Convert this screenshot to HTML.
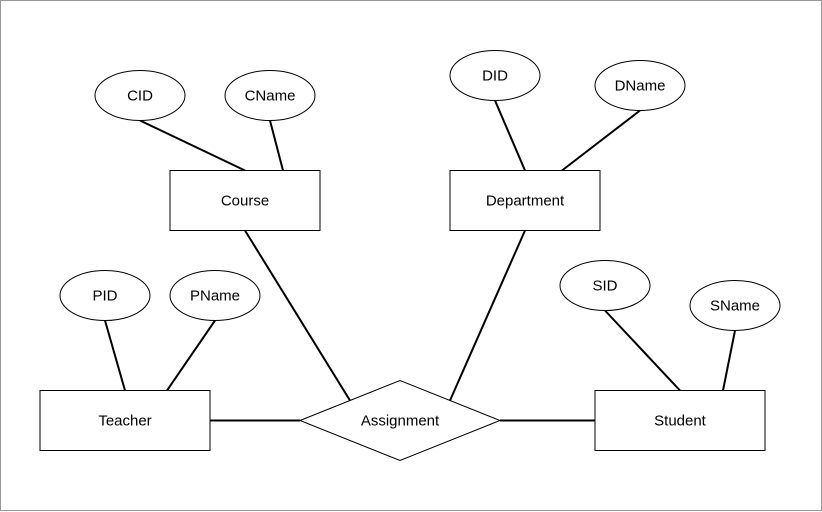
<!DOCTYPE html>
<html><head><meta charset="utf-8"><style>
html,body{margin:0;padding:0;background:#fff;}
svg{display:block;}
text{font-family:"Liberation Sans",Arial,sans-serif;font-size:15px;fill:#000;}
</style></head><body>
<svg width="822" height="512" viewBox="0 0 822 512" xmlns="http://www.w3.org/2000/svg">
<rect x="0.5" y="0.5" width="821" height="510" fill="#fff" stroke="#999" stroke-width="1"/>
<g transform="translate(0,0.5)">
<g stroke="#000" stroke-width="2" fill="none">
<line x1="140" y1="120" x2="245" y2="170"/>
<line x1="270" y1="120" x2="283" y2="170"/>
<line x1="495" y1="100" x2="525" y2="170"/>
<line x1="640" y1="110" x2="562" y2="170"/>
<line x1="245" y1="230" x2="350" y2="400"/>
<line x1="525" y1="230" x2="450" y2="400"/>
<line x1="105" y1="320" x2="125" y2="390"/>
<line x1="215" y1="320" x2="167" y2="390"/>
<line x1="210" y1="420" x2="300" y2="420"/>
<line x1="500" y1="420" x2="595" y2="420"/>
<line x1="605" y1="310" x2="680" y2="390"/>
<line x1="735" y1="330" x2="723" y2="390"/>
</g>
<g stroke="#000" stroke-width="1" fill="#fff">
<ellipse cx="140" cy="95" rx="45" ry="25"/>
<ellipse cx="270" cy="95" rx="45" ry="25"/>
<ellipse cx="495" cy="75" rx="45" ry="25"/>
<ellipse cx="640" cy="85" rx="45" ry="25"/>
<ellipse cx="105" cy="295" rx="45" ry="25"/>
<ellipse cx="215" cy="295" rx="45" ry="25"/>
<ellipse cx="605" cy="285" rx="45" ry="25"/>
<ellipse cx="735" cy="305" rx="45" ry="25"/>
<rect x="170" y="170" width="150" height="60"/>
<rect x="450" y="170" width="150" height="60"/>
<rect x="40" y="390" width="170" height="60"/>
<rect x="595" y="390" width="170" height="60"/>
<polygon points="300,420 400,380 500,420 400,460"/>
</g>
</g>
<g text-anchor="middle" dominant-baseline="central" transform="translate(0,1)">
<text x="140" y="95">CID</text>
<text x="270" y="95">CName</text>
<text x="495" y="75">DID</text>
<text x="640" y="85">DName</text>
<text x="105" y="295">PID</text>
<text x="215" y="295">PName</text>
<text x="605" y="285">SID</text>
<text x="735" y="305">SName</text>
<text x="245" y="200">Course</text>
<text x="525" y="200">Department</text>
<text x="125" y="420">Teacher</text>
<text x="680" y="420">Student</text>
<text x="400" y="420">Assignment</text>
</g>
</svg>
</body></html>
